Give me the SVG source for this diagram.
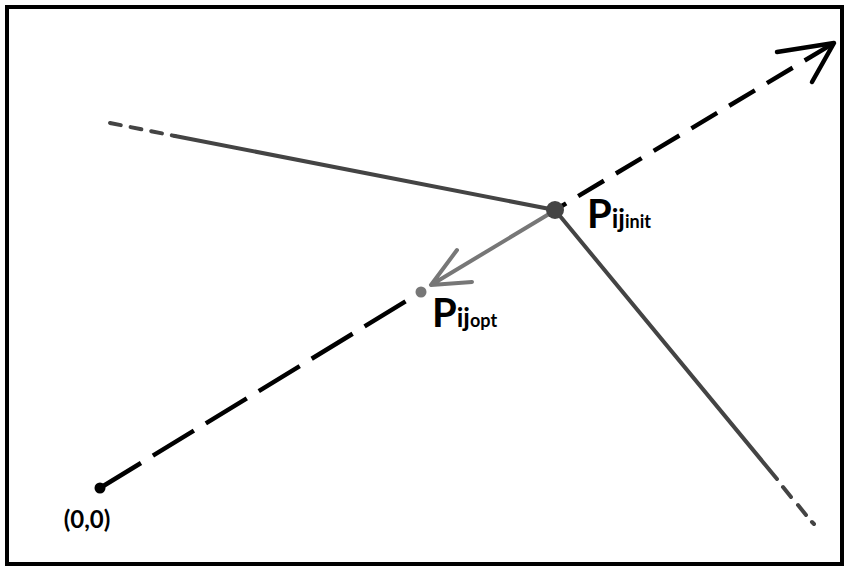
<svg xmlns="http://www.w3.org/2000/svg" width="846" height="567" viewBox="0 0 846 567">
<style>
.edge{fill:none;stroke:#444;stroke-width:4;stroke-linecap:round}
.axis{fill:none;stroke:#000;stroke-width:4.5}
.grey{fill:none;stroke:#777;stroke-width:4;stroke-linecap:round;stroke-linejoin:round}
.lbl{font-family:Lato,"Open Sans","DejaVu Sans",sans-serif;font-weight:700;fill:#000}
</style>
<rect x="0" y="0" width="846" height="567" fill="#fff"/>
<rect x="7" y="7" width="835" height="557" fill="none" stroke="#000" stroke-width="4"/>
<g id="connectors">
  <path class="edge" d="M110,123 L175,136" stroke-dasharray="11 10"/>
  <path class="edge" d="M175,136 L555,210"/>
  <path class="edge" d="M555,210 L777,479"/>
  <path class="edge" d="M783,487 L791,497 M798,505 L806,515 M812,522 L814,524"/>
  <path class="axis" d="M100,488 L421,292" stroke-dasharray="48 14"/>
  <path class="axis" d="M555,210 L834,43" stroke-dasharray="30 14" stroke-dashoffset="17"/>
  <path class="axis" d="M777,52 L834,43 L812,82" stroke-linecap="round" stroke-linejoin="round"/>
  <path class="grey" d="M549,214 L431,285 M457,250 L431,285 L472,282"/>
</g>
<g id="origin">
  <circle cx="100" cy="488" r="5.5" fill="#000"/>
  <text class="lbl" x="87" y="528" font-size="24" text-anchor="middle">(0,0)</text>
</g>
<g id="p-init">
  <circle cx="555" cy="210" r="9" fill="#444"/>
  <text class="lbl" x="587" y="228"><tspan font-size="40">P</tspan><tspan font-size="26">ij</tspan><tspan font-size="18">init</tspan></text>
</g>
<g id="p-opt">
  <circle cx="421" cy="292" r="5.5" fill="#777"/>
  <text class="lbl" x="432" y="327"><tspan font-size="40">P</tspan><tspan font-size="26">ij</tspan><tspan font-size="18">opt</tspan></text>
</g>
</svg>
